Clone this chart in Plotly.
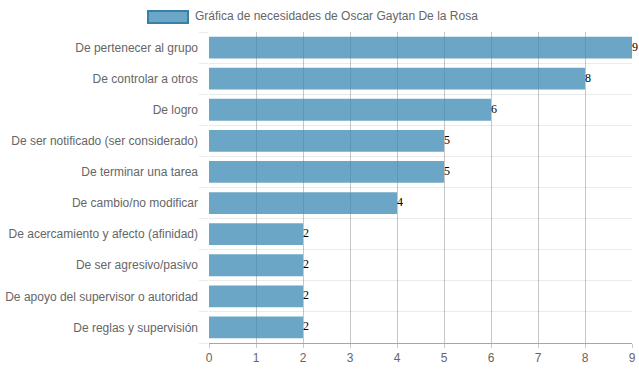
import plotly.graph_objects as go

categories = [
    "De pertenecer al grupo",
    "De controlar a otros",
    "De logro",
    "De ser notificado (ser considerado)",
    "De terminar una tarea",
    "De cambio/no modificar",
    "De acercamiento y afecto (afinidad)",
    "De ser agresivo/pasivo",
    "De apoyo del supervisor o autoridad",
    "De reglas y supervisión",
]
values = [9, 8, 6, 5, 5, 4, 2, 2, 2, 2]
series_name = "Gráfica de necesidades de Oscar Gaytan De la Rosa"
x_ticks = list(range(0, 10))

positions = list(range(len(categories)))

fig = go.Figure()
fig.add_trace(go.Bar(
    y=positions,
    x=values,
    orientation="h",
    width=0.7,
    marker=dict(color="rgba(59,136,179,0.75)", line=dict(width=0)),
    name=series_name,
    showlegend=False,
    hoverinfo="x+y",
))
fig.add_trace(go.Scatter(
    y=positions,
    x=values,
    mode="text",
    text=[str(v) for v in values],
    textposition="middle right",
    textfont=dict(family="Liberation Serif", size=12, color="#000"),
    cliponaxis=False,
    showlegend=False,
    hoverinfo="skip",
))

fig.update_layout(
    template="none",
    width=639, height=372,
    margin=dict(l=209, r=7, t=32, b=29, autoexpand=False),
    paper_bgcolor="white",
    plot_bgcolor="white",
    font=dict(family="Liberation Sans", size=12, color="#666"),
    xaxis=dict(
        automargin=False,
        range=[0, 9],
        tickvals=x_ticks,
        showgrid=True,
        gridcolor="rgba(0,0,0,0.22)",
        gridwidth=1,
        zeroline=False,
        showline=True,
        linecolor="rgba(0,0,0,0.35)",
        linewidth=1,
        ticks="outside",
        ticklen=4,
        tickcolor="rgba(0,0,0,0.22)",
        tickfont=dict(size=12, color="#666"),
    ),
    yaxis=dict(
        automargin=False,
        range=[9.5, -0.5],
        tickvals=positions,
        ticktext=categories,
        showgrid=False,
        zeroline=False,
        showline=False,
        ticks="",
        ticklabelstandoff=10,
        tickfont=dict(size=12, color="#666"),
        minor=dict(
            tickmode="array",
            tickvals=[p - 0.5 for p in positions] + [len(positions) - 0.5],
            showgrid=True,
            gridcolor="rgba(0,0,0,0.08)",
            gridwidth=1,
            ticks="outside",
            ticklen=9,
            tickcolor="rgba(0,0,0,0.08)",
        ),
    ),
    shapes=[dict(
        type="rect", xref="paper", yref="paper",
        x0=(148 - 209) / 423, x1=(188 - 209) / 423,
        y0=1 + (32 - 23) / 311, y1=1 + (32 - 11) / 311,
        fillcolor="rgba(59,136,179,0.75)",
        line=dict(color="#3a7fa8", width=2),
    )],
    annotations=[dict(
        text=series_name, xref="paper", yref="paper",
        x=(193 - 209) / 423, y=1 + (32 - 16) / 311,
        xanchor="left", yanchor="middle", showarrow=False,
        font=dict(size=12, color="#666"),
    )],
)

fig.write_html("out.html", config={"displayModeBar": False},
               post_script="document.body.style.margin='0';")
